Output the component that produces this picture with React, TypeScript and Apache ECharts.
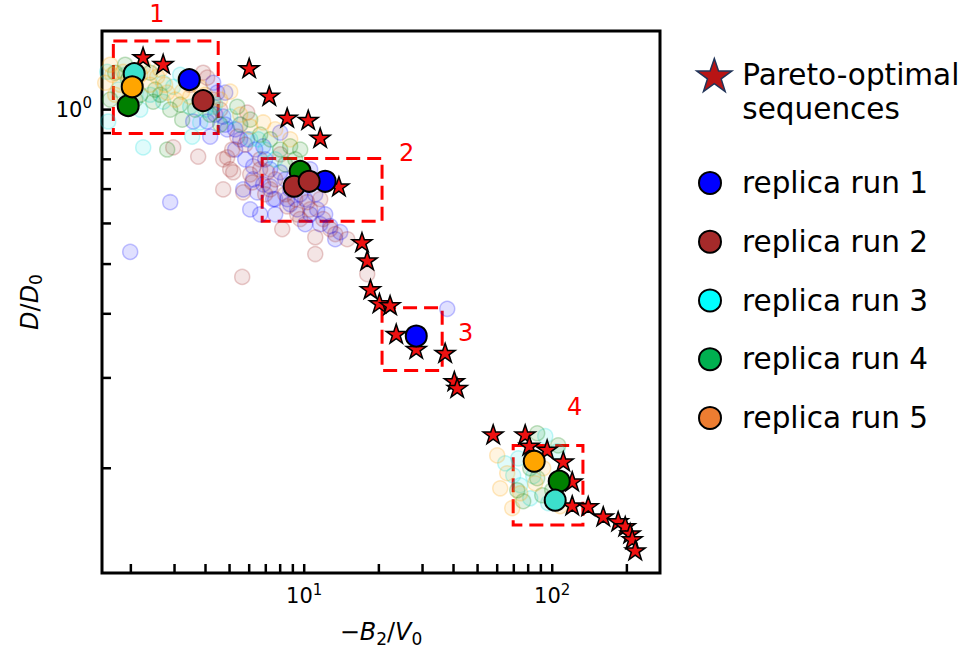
import React, { useEffect, useRef } from "react";
import * as echarts from "echarts";

// ---------- axis extents & ticks ----------
const X_MIN = 1.53;
const X_MAX = 272;
const Y_MIN = 0.125;
const Y_MAX = 1.423;
const xTickValues = [2, 3, 4, 5, 6, 7, 8, 9, 10, 20, 30, 40, 50, 60, 70, 80, 90, 100, 200];
const yTickValues = [0.2, 0.3, 0.4, 0.5, 0.6, 0.7, 0.8, 0.9, 1];

// ---------- Pareto-optimal sequences ----------
const paretoStars: [number, number][] = [
  [2.24, 1.267], [2.7, 1.228], [6.0, 1.206], [7.23, 1.065], [8.54, 0.965], [10.38, 0.956],
  [11.6, 0.882], [13.8, 0.709], [17.1, 0.552], [17.95, 0.509], [18.5, 0.447], [20.1, 0.42],
  [22.2, 0.416], [23.5, 0.366], [28.3, 0.342], [37.0, 0.336], [40.3, 0.296], [41.4, 0.287],
  [57.8, 0.233], [77.8, 0.233], [80.8, 0.2216], [95.4, 0.2177], [110.8, 0.2064], [120.4, 0.1887],
  [120.4, 0.1695], [139.7, 0.1688], [160.6, 0.1613], [184.5, 0.1578], [197.0, 0.1543],
  [206.3, 0.1495], [210.2, 0.1456], [216.1, 0.1385],
];

// ---------- highlighted replica runs ----------
const run1: [number, number][] = [[3.44, 1.144], [12.15, 0.725], [28.3, 0.362]];
const run2: [number, number][] = [[3.91, 1.041], [9.11, 0.709], [10.47, 0.725]];
const run3: [number, number][] = [[2.063, 1.175], [102.8, 0.1733]];
const run4: [number, number][] = [[1.951, 1.018], [9.63, 0.758], [106.7, 0.1887]];
const run5: [number, number][] = [[2.025, 1.108], [84.6, 0.2064]];

// ---------- faded samples of each run ----------
const faded1: [number, number][] = [
  [4.296, 1.128], [4.459, 1.079], [4.803, 1.079], [3.568, 0.948], [4.063, 0.948], [4.714, 0.969],
  [4.893, 0.915], [4.178, 0.886], [5.891, 0.875], [5.269, 0.836], [5.782, 0.8], [6.834, 0.848],
  [8.003, 0.902], [6.229, 0.775], [6.229, 0.731], [5.675, 0.699], [6.465, 0.69], [6.057, 0.639],
  [7.293, 0.709], [7.499, 0.669], [8.003, 0.755], [8.78, 0.699], [9.636, 0.684], [10.57, 0.765],
  [11.08, 0.684], [9.371, 0.639], [11.28, 0.639], [6.645, 0.625], [10.09, 0.598], [11.6, 0.598],
  [12.73, 0.593], [13.97, 0.577], [13.34, 0.559], [1.988, 0.528], [2.882, 0.66], [37.73, 0.409],
  [7.64, 0.625], [8.541, 0.669], [4.377, 0.978], [5.269, 0.915], [6.346, 0.836], [6.961, 0.8],
  [8.383, 0.731], [9.199, 0.715], [10.09, 0.669], [12.15, 0.625], [5.52, 0.875], [4.803, 0.935],
  [7.293, 0.765], [8.78, 0.654], [10.57, 0.625], [6.834, 0.715], [7.64, 0.669],
];
const faded2: [number, number][] = [
  [4.063, 1.154], [3.914, 1.18], [5.891, 0.987], [5.369, 0.886], [4.714, 0.8], [3.737, 0.81],
  [5.03, 0.765], [4.714, 0.699], [7.092, 0.755], [7.293, 0.699], [5.172, 0.755], [5.675, 0.69],
  [8.541, 0.648], [10.28, 0.66], [11.93, 0.612], [14.91, 0.559], [8.153, 0.585], [11.08, 0.564],
  [11.08, 0.523], [5.623, 0.472], [17.95, 0.478], [2.964, 0.844], [6.171, 0.721], [4.893, 0.807],
  [11.6, 0.669], [9.371, 0.625], [6.645, 0.8], [8.003, 0.818], [9.636, 0.731], [13.34, 0.572],
  [3.47, 1.118], [5.52, 0.935], [4.296, 1.046], [4.585, 1.0], [5.782, 0.855], [6.645, 0.765],
  [7.64, 0.731], [8.383, 0.684], [9.199, 0.669], [10.57, 0.639], [12.73, 0.585], [6.961, 0.684],
  [6.057, 0.748], [9.636, 0.612], [5.124, 0.836],
];
const faded3: [number, number][] = [
  [1.606, 1.185], [1.897, 1.169], [1.621, 0.948], [2.182, 1.0], [2.701, 1.128], [2.964, 1.108],
  [2.701, 1.036], [3.47, 1.013], [4.377, 1.023], [3.807, 0.944], [3.535, 0.886], [2.243, 0.844],
  [4.296, 1.013], [5.03, 0.969], [6.057, 0.875], [6.961, 0.836], [7.64, 0.8], [1.778, 1.094],
  [2.393, 1.069], [3.162, 1.169], [3.988, 1.0], [5.52, 0.935], [6.525, 0.875],
  [93.71, 0.231], [72.94, 0.2091], [104.8, 0.2158], [64.64, 0.2045], [69.62, 0.1938],
  [83.83, 0.193], [74.3, 0.1853], [81.53, 0.1748], [96.36, 0.171],
];
const faded4: [number, number][] = [
  [1.729, 1.18], [1.951, 1.144], [2.182, 1.069], [2.393, 1.18], [2.507, 1.094], [2.461, 1.036],
  [2.882, 1.0], [3.222, 0.956], [2.803, 0.836], [3.635, 1.0], [1.651, 1.046], [5.369, 1.013],
  [6.645, 0.894], [7.293, 0.875], [8.003, 0.836], [8.78, 0.848], [9.636, 0.836], [9.199, 0.8],
  [8.383, 0.782], [1.897, 1.223], [2.083, 1.046], [2.627, 1.069], [3.162, 1.023], [4.178, 0.978],
  [6.057, 0.956], [4.585, 0.935],
  [87.0, 0.234], [105.7, 0.2216], [81.53, 0.2], [87.0, 0.1913], [72.26, 0.1812],
  [76.4, 0.1725], [91.14, 0.1772], [100, 0.1812],
];
const faded5: [number, number][] = [
  [1.576, 1.128], [1.682, 1.169], [1.863, 1.185], [1.988, 1.094], [2.083, 1.154], [2.243, 1.212],
  [2.393, 1.118], [2.554, 1.159], [2.627, 1.196], [2.803, 1.079], [3.019, 1.046], [3.222, 1.084],
  [3.47, 1.06], [1.729, 1.069], [3.807, 1.103], [5.52, 0.978], [6.057, 0.927], [6.834, 0.944],
  [7.64, 0.915], [8.78, 0.875], [1.651, 1.223], [1.812, 1.118], [2.182, 1.169], [2.751, 1.118],
  [3.313, 1.144], [3.988, 1.069], [4.585, 1.046], [5.03, 1.084],
  [60.01, 0.2119], [65.85, 0.1956], [91.98, 0.2], [68.98, 0.1672],
  [107.7, 0.1687], [74.3, 0.1788], [61.7, 0.1828], [85.4, 0.187],
];

// ---------- highlighted regions ----------
const boxLabels = ["1", "2", "3", "4"];
const boxCorners: [[number, number], [number, number]][] = [
  [[1.7, 1.361], [4.5, 0.898]],
  [[6.77, 0.803], [20.6, 0.606]],
  [[20.6, 0.411], [36.0, 0.31]],
  [[69.6, 0.2216], [133, 0.155]],
];
const boxLabelOffsets: [number, number][] = [[45, -25], [146, -4], [85, 27], [63, -37]];

const runNames = ["replica run 1", "replica run 2", "replica run 3", "replica run 4", "replica run 5"];
const runData = [run1, run2, run3, run4, run5];
const fadedData = [faded1, faded2, faded3, faded4, faded5];
const plotColors = ["#0000ff", "#a52a2a", "#3ce0cc", "#008000", "#ffa500"];
const fadedRGB = ["0,0,255", "165,42,42", "0,220,220", "0,128,0", "255,165,0"];
const legendColors = ["#0000ff", "#a52a2a", "#00ffff", "#00b050", "#ed7d31"];
const PARETO = "Pareto-optimal sequences";

const STAR =
  "path://M50,0 L61.8,35.1 L98.9,35.1 L69.1,56.7 L80.3,91.9 L50,70.3 L19.7,91.9 L30.9,56.7 L1.1,35.1 L38.2,35.1 Z";

const FONT = "DejaVu Sans";

function powLabel(v: number): string {
  const l = Math.log10(v);
  const r = Math.round(l);
  if (Math.abs(l - r) < 1e-6) return `{b|10}{sup|${r}}`;
  return "";
}

export default function App() {
  const ref = useRef<HTMLDivElement>(null);
  useEffect(() => {
    if (!ref.current) return;
    const chart = echarts.init(ref.current, undefined, { renderer: "svg" });

    const labelRich = {
      b: { fontFamily: FONT, fontSize: 21, color: "#000", lineHeight: 28 },
      sup: { fontFamily: FONT, fontSize: 15, color: "#000", verticalAlign: "top", lineHeight: 16 },
    };
    const nameRich = {
      n: { fontFamily: FONT, fontSize: 24, color: "#000", lineHeight: 30 },
      i: { fontFamily: FONT, fontSize: 24, fontStyle: "italic", color: "#000", lineHeight: 30 },
      s: { fontFamily: FONT, fontSize: 17, color: "#000", verticalAlign: "bottom", lineHeight: 18 },
    };

    const fadedSeries = fadedData.map((d, i) => ({
      name: `faded ${i + 1}`,
      type: "scatter",
      data: d,
      symbol: "circle",
      symbolSize: 15,
      silent: true,
      itemStyle: {
        color: `rgba(${fadedRGB[i]},0.12)`,
        borderColor: `rgba(${fadedRGB[i]},0.24)`,
        borderWidth: 1.5,
        opacity: 1,
      },
    }));

    const drawOrder = [0, 3, 1, 2, 4];
    const runSeries = drawOrder.map((i) => ({
      name: runNames[i],
      type: "scatter",
      data: runData[i],
      symbol: "circle",
      symbolSize: 21,
      silent: true,
      itemStyle: { color: plotColors[i], borderColor: "#000", borderWidth: 2, opacity: 1 },
    }));

    const boxSeries = {
      name: "regions",
      type: "scatter",
      data: [],
      silent: true,
      markArea: {
        silent: true,
        itemStyle: {
          color: "rgba(0,0,0,0)",
          borderColor: "#ff0000",
          borderWidth: 3,
          borderType: [14, 7],
        },
        label: {
          show: true,
          color: "#ff0000",
          fontFamily: FONT,
          fontSize: 24,
          align: "center",
          verticalAlign: "middle",
        },
        data: boxCorners.map((c, i) => [
          {
            name: boxLabels[i],
            xAxis: c[0][0],
            yAxis: c[0][1],
            label: { position: boxLabelOffsets[i] },
          },
          { xAxis: c[1][0], yAxis: c[1][1] },
        ]),
      },
    };

    const starSeries = {
      name: PARETO,
      type: "scatter",
      data: paretoStars,
      symbol: STAR,
      symbolSize: 20,
      symbolKeepAspect: true,
      silent: true,
      itemStyle: { color: "#ee1111", borderColor: "#000", borderWidth: 1.5, opacity: 1 },
    };

    const xTickSeries = {
      name: "xticks",
      type: "custom",
      silent: true,
      data: xTickValues.map((v) => [v, Y_MIN]),
      renderItem: (_p: any, api: any) => {
        const p = api.coord([api.value(0), api.value(1)]);
        return {
          type: "line",
          shape: { x1: p[0], y1: p[1], x2: p[0], y2: p[1] - 9 },
          style: { stroke: "#000", lineWidth: 2.5 },
        };
      },
      z: 10,
    };
    const yTickSeries = {
      name: "yticks",
      type: "custom",
      silent: true,
      data: yTickValues.map((v) => [X_MIN, v]),
      renderItem: (_p: any, api: any) => {
        const p = api.coord([api.value(0), api.value(1)]);
        return {
          type: "line",
          shape: { x1: p[0], y1: p[1], x2: p[0] + 9, y2: p[1] },
          style: { stroke: "#000", lineWidth: 2.5 },
        };
      },
      z: 10,
    };

    chart.setOption({
      animation: false,
      backgroundColor: "#ffffff",
      textStyle: { fontFamily: FONT },
      grid: {
        left: 102,
        top: 31,
        width: 558,
        height: 544,
        show: true,
        borderColor: "#000",
        borderWidth: 3,
        backgroundColor: "transparent",
        containLabel: false,
      },
      xAxis: {
        type: "log",
        logBase: 10,
        min: X_MIN,
        max: X_MAX,
        axisLine: { show: false },
        axisTick: { show: false },
        splitLine: { show: false },
        axisLabel: {
          margin: 9,
          fontSize: 21,
          fontFamily: FONT,
          color: "#000",
          formatter: powLabel,
          rich: labelRich,
          showMinLabel: false,
          showMaxLabel: false,
        },
        name: "{n|\u2212}{i|B}{s|2}{n|/}{i|V}{s|0}",
        nameLocation: "middle",
        nameGap: 44,
        nameTextStyle: { rich: nameRich },
      },
      yAxis: {
        type: "log",
        logBase: 10,
        min: Y_MIN,
        max: Y_MAX,
        axisLine: { show: false },
        axisTick: { show: false },
        splitLine: { show: false },
        axisLabel: {
          margin: 10,
          fontSize: 21,
          fontFamily: FONT,
          color: "#000",
          formatter: powLabel,
          rich: labelRich,
          showMinLabel: false,
          showMaxLabel: false,
        },
        name: "{i|D}{n|/}{i|D}{s|0}",
        nameLocation: "middle",
        nameGap: 52,
        nameRotate: 90,
        nameTextStyle: { rich: nameRich },
      },
      legend: [
        {
          orient: "vertical",
          left: 696,
          top: 24,
          padding: 0,
          itemWidth: 46,
          itemHeight: 33,
          selectedMode: false,
          symbolKeepAspect: true,
          formatter: () => "\nPareto-optimal\nsequences",
          textStyle: {
            fontFamily: FONT,
            fontSize: 29.5,
            color: "#000",
            lineHeight: 34,
          },
          data: [
            {
              name: PARETO,
              icon: STAR,
              itemStyle: { color: "#b81414", borderColor: "#203358", borderWidth: 1.5 },
            },
          ],
        },
        {
          orient: "vertical",
          left: 698,
          top: 168,
          padding: 0,
          itemWidth: 54,
          itemHeight: 22,
          itemGap: 28.75,
          selectedMode: false,
          textStyle: { fontFamily: FONT, fontSize: 29.5, color: "#000", lineHeight: 30 },
          data: runNames.map((n, i) => ({
            name: n,
            icon: "circle",
            itemStyle: { color: legendColors[i], borderColor: "#000", borderWidth: 2 },
          })),
        },
      ],
      series: [...fadedSeries, boxSeries, starSeries, ...runSeries, xTickSeries, yTickSeries],
    });

    return () => chart.dispose();
  }, []);

  return (
    <div
      ref={ref}
      style={{ position: "absolute", left: 0, top: 0, width: 966, height: 652, background: "#fff" }}
    />
  );
}
